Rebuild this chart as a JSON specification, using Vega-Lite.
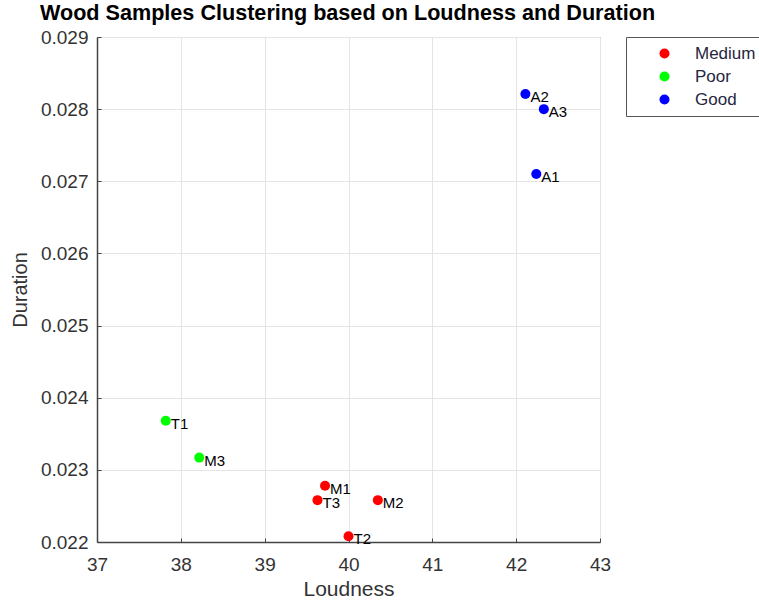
{
  "$schema": "https://vega.github.io/schema/vega-lite/v6.json",
  "width": 503,
  "height": 505,
  "autosize": "none",
  "padding": {"left": 97, "top": 37, "right": 159, "bottom": 63},
  "background": "white",
  "title": {
    "text": "Wood Samples Clustering based on Loudness and Duration",
    "anchor": "start",
    "frame": "group",
    "dx": -57,
    "offset": 3,
    "font": "Liberation Sans",
    "fontSize": 21.6,
    "fontWeight": "bold",
    "color": "#000000"
  },
  "config": {
    "view": {"stroke": "#7a7a7a", "strokeWidth": 1},
    "font": "Liberation Sans"
  },
  "data": {
    "values": [
      {"name": "A1", "loudness": 42.24, "duration": 0.0271, "cluster": "Good"},
      {"name": "A2", "loudness": 42.11, "duration": 0.02821, "cluster": "Good"},
      {"name": "A3", "loudness": 42.33, "duration": 0.0280, "cluster": "Good"},
      {"name": "T1", "loudness": 37.82, "duration": 0.02368, "cluster": "Poor"},
      {"name": "M3", "loudness": 38.22, "duration": 0.02317, "cluster": "Poor"},
      {"name": "M1", "loudness": 39.72, "duration": 0.02278, "cluster": "Medium"},
      {"name": "T3", "loudness": 39.63, "duration": 0.02258, "cluster": "Medium"},
      {"name": "M2", "loudness": 40.35, "duration": 0.02258, "cluster": "Medium"},
      {"name": "T2", "loudness": 40.0, "duration": 0.02208, "cluster": "Medium"}
    ]
  },
  "encoding": {
    "x": {
      "field": "loudness",
      "type": "quantitative",
      "scale": {"domain": [37, 43], "nice": false, "zero": false},
      "axis": {
        "title": "Loudness",
        "values": [37, 38, 39, 40, 41, 42, 43],
        "format": "d",
        "grid": true,
        "gridColor": "#e4e4e4",
        "domainColor": "#444444",
        "domainWidth": 1.5,
        "tickColor": "#444444",
        "tickSize": -4,
        "labelFlush": false,
        "labelFontSize": 19,
        "labelColor": "#333333",
        "labelPadding": 17,
        "titleFontSize": 21,
        "titleFontWeight": "normal",
        "titleColor": "#333333",
        "titlePadding": 4
      }
    },
    "y": {
      "field": "duration",
      "type": "quantitative",
      "scale": {"domain": [0.022, 0.029], "nice": false, "zero": false},
      "axis": {
        "title": "Duration",
        "values": [0.022, 0.023, 0.024, 0.025, 0.026, 0.027, 0.028, 0.029],
        "format": ".3f",
        "grid": true,
        "gridColor": "#e4e4e4",
        "domainColor": "#444444",
        "domainWidth": 1.5,
        "tickColor": "#444444",
        "tickSize": -4,
        "labelFlush": false,
        "labelFontSize": 19,
        "labelColor": "#333333",
        "labelPadding": 13,
        "titleFontSize": 20,
        "titleFontWeight": "normal",
        "titleColor": "#333333",
        "titlePadding": 10
      }
    }
  },
  "layer": [
    {
      "mark": {"type": "point", "filled": true, "opacity": 1, "size": 100},
      "encoding": {
        "color": {
          "field": "cluster",
          "type": "nominal",
          "scale": {"domain": ["Medium", "Poor", "Good"], "range": ["#ff0000", "#00ff00", "#0000ff"]},
          "legend": {
            "title": null,
            "orient": "none",
            "legendX": 529,
            "legendY": 0,
            "direction": "vertical",
            "strokeColor": "#555555",
            "fillColor": "#ffffff",
            "padding": 8,
            "symbolType": "circle",
            "symbolSize": 100,
            "symbolOffset": 22,
            "labelOffset": 22,
            "labelFontSize": 17,
            "labelColor": "#262640",
            "rowPadding": 5,
            "labelLimit": 200
          }
        }
      }
    },
    {
      "mark": {"type": "text", "align": "left", "baseline": "middle", "dx": 5, "dy": 3, "fontSize": 15, "color": "#000000"},
      "encoding": {"text": {"field": "name", "type": "nominal"}}
    }
  ]
}
